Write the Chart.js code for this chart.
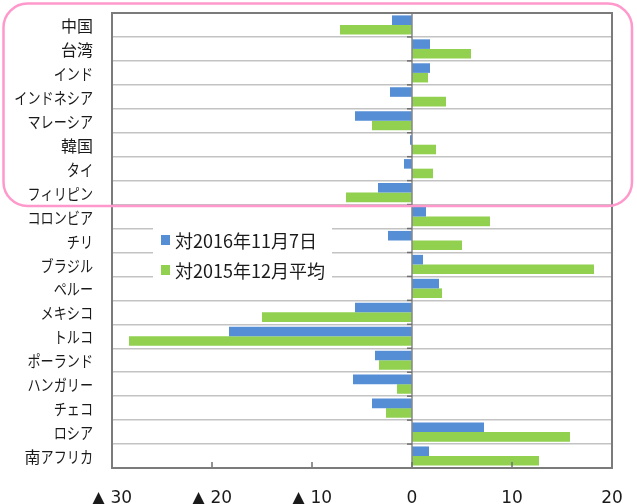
<!DOCTYPE html>
<html>
<head>
<meta charset="utf-8">
<script src="https://cdn.jsdelivr.net/npm/chart.js@4/dist/chart.umd.min.js"></script>
<style>
  html, body { margin: 0; padding: 0; background: #fff; }
  #wrap { width: 637px; height: 504px; position: relative; }
</style>
</head>
<body>
<div id="wrap"><canvas id="c" width="637" height="504"></canvas></div>
<script>
// 通貨の騰落率（％）
const categories = ['中国', '台湾', 'インド', 'インドネシア', 'マレーシア', '韓国', 'タイ', 'フィリピン',
  'コロンビア', 'チリ', 'ブラジル', 'ペルー', 'メキシコ', 'トルコ', 'ポーランド', 'ハンガリー', 'チェコ', 'ロシア', '南アフリカ'];
const seriesNames = ['対2016年11月7日', '対2015年12月平均'];
const vsNov7 = [-2.0, 1.8, 1.8, -2.2, -5.7, -0.2, -0.8, -3.4,
  1.4, -2.4, 1.1, 2.7, -5.7, -18.3, -3.7, -5.9, -4.0, 7.2, 1.7];
const vsDec2015 = [-7.2, 5.9, 1.6, 3.4, -4.0, 2.4, 2.1, -6.6,
  7.8, 5.0, 18.2, 3.0, -15.0, -28.3, -3.3, -1.5, -2.6, 15.8, 12.7];
const xTickValues = [-30, -20, -10, 0, 10, 20];
const xTickLabels = ['▲ 30', '▲ 20', '▲ 10', '0', '10', '20'];
const colors = ['#558ed5', '#92d050'];

const jpFont = '"Noto Sans CJK JP", "Noto Sans", sans-serif';
const textColor = '#1a1a1a';

// かなを詰めて描く（UI 向けの詰め組み）
function isKana(ch) {
  const c = ch.charCodeAt(0);
  return c >= 0x3040 && c <= 0x30ff;
}
function charScale(ch) { return isKana(ch) ? 0.82 : 1; }
function drawCondensed(ctx, text, right, cy) {
  const chars = Array.from(text);
  const widths = chars.map(ch => ctx.measureText(ch).width * charScale(ch));
  let x = right - widths.reduce((s, w) => s + w, 0);
  chars.forEach((ch, i) => {
    const s = charScale(ch);
    ctx.save();
    ctx.translate(x, cy);
    ctx.scale(s, 1);
    ctx.fillText(ch, 0, 0);
    ctx.restore();
    x += widths[i];
  });
}

// 枠線・目盛り線・分類ラベル・凡例・強調枠
const decorations = {
  id: 'decorations',
  afterDatasetsDraw(chart) {
    const { ctx, chartArea: a, scales: { x, y } } = chart;
    ctx.save();
    // 0 の軸線
    const x0 = x.getPixelForValue(0);
    ctx.strokeStyle = '#878787';
    ctx.lineWidth = 1.5;
    ctx.beginPath();
    ctx.moveTo(x0, a.top);
    ctx.lineTo(x0, a.bottom);
    ctx.stroke();
    // 区切りの目盛り（左向き）
    ctx.strokeStyle = '#6f6f6f';
    const n = chart.data.labels.length;
    for (let i = 0; i <= n; i++) {
      const yy = a.top + (a.bottom - a.top) * i / n;
      ctx.beginPath();
      ctx.moveTo(x0 - 5, yy);
      ctx.lineTo(x0, yy);
      ctx.stroke();
    }
    // 下端の内向き目盛り
    xTickValues.forEach(v => {
      const xx = x.getPixelForValue(v);
      ctx.beginPath();
      ctx.moveTo(xx, a.bottom);
      ctx.lineTo(xx, a.bottom - 6);
      ctx.stroke();
    });
    // プロット枠
    ctx.strokeStyle = '#7b7b7b';
    ctx.lineWidth = 2;
    ctx.strokeRect(a.left, a.top, a.right - a.left, a.bottom - a.top);

    // 分類ラベル
    ctx.font = '16px ' + jpFont;
    ctx.fillStyle = textColor;
    ctx.textBaseline = 'middle';
    ctx.textAlign = 'left';
    chart.data.labels.forEach((label, i) => {
      drawCondensed(ctx, label, a.left - 19, y.getPixelForValue(i) + 1);
    });

    // 凡例
    const lx = a.left + 41, ly = a.top + 215, lw = 179, lh = 50;
    ctx.fillStyle = '#fff';
    ctx.fillRect(lx, ly, lw, lh);
    ctx.font = '18px ' + jpFont;
    chart.data.datasets.forEach((ds, i) => {
      const cy = ly + 12 + i * 30;
      ctx.fillStyle = ds.backgroundColor;
      ctx.fillRect(lx + 8, cy - 5, 9, 10);
      ctx.fillStyle = textColor;
      ctx.fillText(ds.label, lx + 22, cy + 1);
    });
    ctx.restore();
  },
  afterDraw(chart) {
    const { ctx } = chart;
    ctx.save();
    ctx.strokeStyle = '#ff99cc';
    ctx.lineWidth = 2.5;
    ctx.beginPath();
    ctx.roundRect(3.5, 3.5, 628.5, 202.5, 24);
    ctx.stroke();
    ctx.restore();
  }
};

new Chart(document.getElementById('c'), {
  type: 'bar',
  data: {
    labels: categories,
    datasets: [
      { label: seriesNames[0], data: vsNov7, backgroundColor: colors[0] },
      { label: seriesNames[1], data: vsDec2015, backgroundColor: colors[1] }
    ]
  },
  options: {
    indexAxis: 'y',
    responsive: false,
    animation: false,
    devicePixelRatio: 1,
    layout: { padding: { top: 13, right: 25, left: 0, bottom: 0 } },
    datasets: { bar: { categoryPercentage: 0.8, barPercentage: 1.0 } },
    plugins: { legend: { display: false }, tooltip: { enabled: false } },
    scales: {
      x: {
        min: -30, max: 20,
        afterBuildTicks(scale) { scale.ticks = xTickValues.map(v => ({ value: v })); },
        afterFit(scale) { scale.height = 36; scale.paddingLeft = 0; scale.paddingRight = 0; },
        grid: { display: false, drawTicks: false },
        border: { display: false },
        ticks: {
          padding: 20,
          maxRotation: 0,
          color: textColor,
          font: { family: '"DejaVu Sans", Verdana, sans-serif', size: 17 },
          callback(value, index) { return xTickLabels[index]; }
        }
      },
      y: {
        afterFit(scale) { scale.width = 112; scale.paddingTop = 0; scale.paddingBottom = 0; },
        grid: { color: '#c3c3c3', lineWidth: 1.5, drawTicks: false, offset: true },
        border: { display: false },
        ticks: {
          padding: 19,
          color: 'rgba(0,0,0,0)',
          font: { family: jpFont, size: 16 }
        }
      }
    }
  },
  plugins: [decorations]
});
</script>
</body>
</html>
